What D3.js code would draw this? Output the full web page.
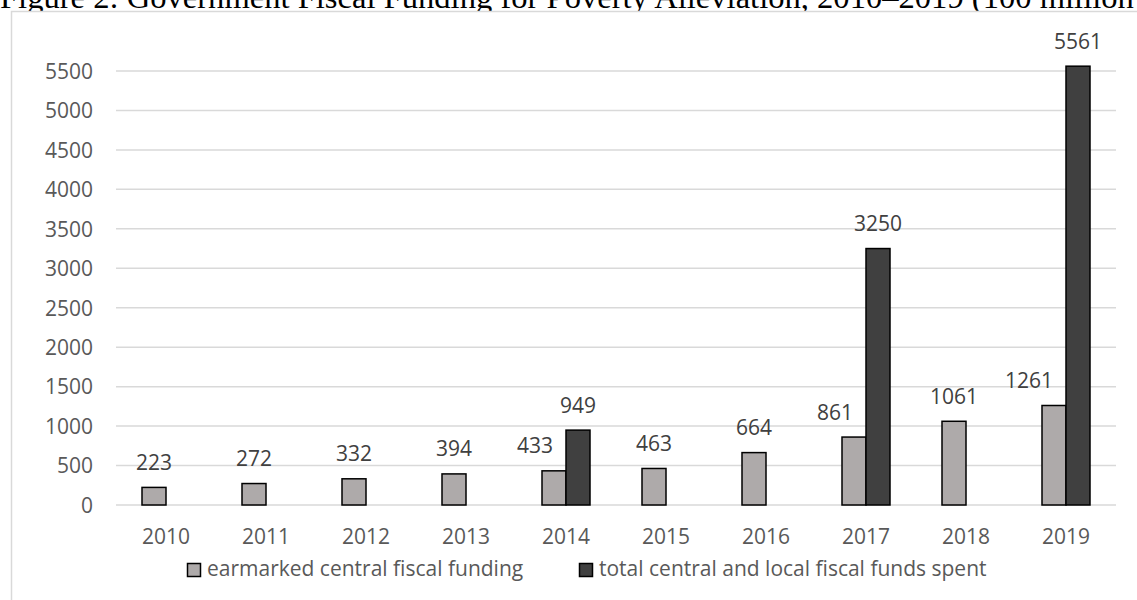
<!DOCTYPE html>
<html>
<head>
<meta charset="utf-8">
<script src="https://cdn.jsdelivr.net/npm/d3@7"></script>
<style>
  html, body { margin: 0; padding: 0; background: #fff; overflow: hidden; }
  svg { display: block; }
</style>
</head>
<body>
<svg id="chart" width="1137" height="600"></svg>
<script>
const titleText = "Figure 2: Government Fiscal Funding for Poverty Alleviation, 2010\u20132019 (100 million yuan)";
const years = ["2010","2011","2012","2013","2014","2015","2016","2017","2018","2019"];
const earmarked = [223, 272, 332, 394, 433, 463, 664, 861, 1061, 1261];
const totalSpent = [null, null, null, null, 949, null, null, 3250, null, 5561];
const seriesNames = ["earmarked central fiscal funding", "total central and local fiscal funds spent"];
const seriesColors = ["#aeaaaa", "#404040"];
const yTicks = d3.range(0, 5501, 500);

const svg = d3.select("#chart");
const sansFont = "'Open Sans', 'DejaVu Sans', sans-serif";

// Title (cut off at top, as in reference)
svg.append("text")
  .attr("x", 0).attr("y", 7.5)
  .attr("font-family", "'Liberation Serif', 'Times New Roman', serif")
  .attr("font-size", 32.6)
  .attr("fill", "#000")
  .text(titleText);

// Chart frame
svg.append("rect")
  .attr("x", 11.5).attr("y", 11.5)
  .attr("width", 1140).attr("height", 600)
  .attr("fill", "#fff")
  .attr("stroke", "#d9d9d9").attr("stroke-width", 1.5);

const plotLeft = 116, plotRight = 1116;
const x0 = d3.scaleBand().domain(years).range([plotLeft, plotRight]).paddingInner(0.52).paddingOuter(0.26);
const x1 = d3.scaleBand().domain([0, 1]).range([0, x0.bandwidth()]);
const y = d3.scaleLinear().domain([0, 5500]).range([505, 71]);

// Gridlines
svg.append("g").selectAll("line").data(yTicks).join("line")
  .attr("x1", plotLeft).attr("x2", plotRight)
  .attr("y1", d => y(d)).attr("y2", d => y(d))
  .attr("stroke", "#d9d9d9").attr("stroke-width", 1.5);

// Y axis labels
const yAxis = d3.axisLeft(y).tickValues(yTicks).tickSize(0).tickPadding(0).tickFormat(d3.format("d"));
const yg = svg.append("g").attr("transform", "translate(93,0)").call(yAxis);
yg.select(".domain").remove();
yg.selectAll("text").attr("font-family", sansFont).attr("font-size", 21).attr("fill", "#595959").attr("dy", "0.35em");

// X axis labels
const xAxis = d3.axisBottom(x0.copy().paddingInner(0).paddingOuter(0)).tickSize(0).tickPadding(0);
const xg = svg.append("g").attr("transform", "translate(0,544)").call(xAxis);
xg.select(".domain").remove();
xg.selectAll("text").attr("font-family", sansFont).attr("font-size", 21).attr("fill", "#595959").attr("dy", 0).attr("y", 0);

// Bars
const allSeries = [earmarked, totalSpent];
const barLayer = svg.append("g");
const labelLayer = svg.append("g");
allSeries.forEach((vals, si) => {
  const data = years.map((yr, i) => ({ yr, i, v: vals[i] })).filter(d => d.v != null);
  barLayer.append("g").selectAll("rect").data(data).join("rect")
    .attr("x", d => x0(d.yr) + x1(si))
    .attr("y", d => y(d.v))
    .attr("width", x1.bandwidth())
    .attr("height", d => y(0) - y(d.v))
    .attr("fill", seriesColors[si])
    .attr("stroke", "#000").attr("stroke-width", 1.5);
  // labels of the first series are nudged left when a neighbouring bar exists
  const nudged = d => si === 0 && totalSpent[d.i] != null;
  labelLayer.append("g").selectAll("text").data(data).join("text")
    .attr("x", d => nudged(d)
      ? x0(d.yr) + x1(si) + x1.bandwidth() - 13
      : x0(d.yr) + x1(si) + x1.bandwidth() / 2)
    .attr("y", d => y(d.v) - 17.5)
    .attr("text-anchor", d => nudged(d) ? "end" : "middle")
    .attr("font-family", sansFont).attr("font-size", 21)
    .attr("fill", "#404040")
    .text(d => d.v);
});

// Legend
const legendX = [187.5, 579.5];
seriesNames.forEach((name, i) => {
  const g = svg.append("g").attr("transform", `translate(${legendX[i]},563.5)`);
  g.append("rect").attr("width", 13).attr("height", 13)
    .attr("fill", seriesColors[i]).attr("stroke", "#000").attr("stroke-width", 1.5);
  g.append("text").attr("x", 19.5).attr("y", 12.5)
    .attr("font-family", sansFont).attr("font-size", 21)
    .attr("fill", "#595959").text(name);
});
</script>
</body>
</html>
